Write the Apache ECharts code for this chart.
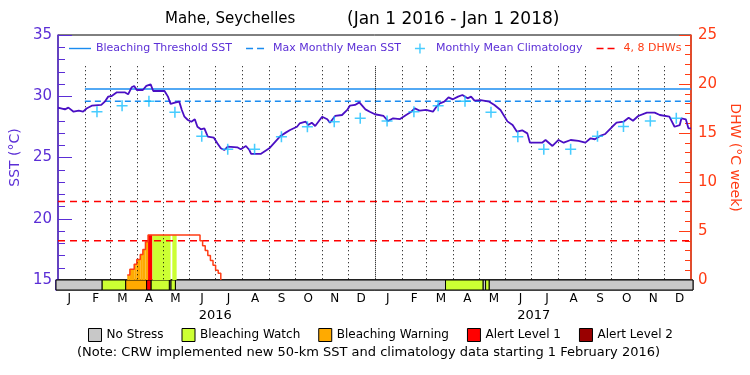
<!DOCTYPE html>
<html>
<head>
<meta charset="utf-8">
<title>Mahe, Seychelles</title>
<script src="https://cdn.jsdelivr.net/npm/echarts@6/dist/echarts.min.js"></script>
<style>
  html, body { margin: 0; padding: 0; background: #fff; }
  #chart { width: 750px; height: 375px; }
</style>
</head>
<body>
<div id="chart"></div>
<script>
// SST 日序列
const sstDates = ['2016-01-01','2016-01-09','2016-01-13','2016-01-19','2016-01-25','2016-01-30','2016-02-03','2016-02-09','2016-02-20','2016-02-24',
  '2016-02-28','2016-03-03','2016-03-09','2016-03-18','2016-03-22','2016-03-26','2016-03-29','2016-04-01','2016-04-08','2016-04-12',
  '2016-04-17','2016-04-20','2016-05-03','2016-05-07','2016-05-10','2016-05-15','2016-05-20','2016-05-23','2016-05-26','2016-05-30',
  '2016-06-03','2016-06-07','2016-06-10','2016-06-14','2016-06-18','2016-06-22','2016-06-29','2016-07-03','2016-07-07','2016-07-11',
  '2016-07-15','2016-07-26','2016-07-30','2016-08-05','2016-08-09','2016-08-11','2016-08-22','2016-09-01','2016-09-14','2016-09-20',
  '2016-09-25','2016-10-03','2016-10-06','2016-10-13','2016-10-16','2016-10-20','2016-10-24','2016-11-01','2016-11-07','2016-11-10',
  '2016-11-16','2016-11-24','2016-11-30','2016-12-03','2016-12-09','2016-12-14','2016-12-21','2016-12-26','2017-01-01','2017-01-11',
  '2017-01-16','2017-01-22','2017-01-30','2017-02-06','2017-02-12','2017-02-16','2017-02-22','2017-03-01','2017-03-09','2017-03-13',
  '2017-03-17','2017-03-22','2017-03-27','2017-04-01','2017-04-07','2017-04-12','2017-04-18','2017-04-22','2017-04-26','2017-05-03',
  '2017-05-13','2017-05-19','2017-05-26','2017-06-03','2017-06-09','2017-06-14','2017-06-20','2017-06-26','2017-06-29','2017-07-13',
  '2017-07-17','2017-07-25','2017-08-01','2017-08-07','2017-08-15','2017-08-24','2017-09-01','2017-09-07','2017-09-12','2017-09-18',
  '2017-09-24','2017-10-02','2017-10-07','2017-10-15','2017-10-21','2017-10-26','2017-11-01','2017-11-11','2017-11-20','2017-11-26',
  '2017-12-07','2017-12-13','2017-12-19','2017-12-21','2017-12-26','2017-12-29','2018-01-01']
const sstValues = [29.07,28.93,29.07,28.74,28.82,28.74,29.0,29.23,29.29,29.56,
  29.97,30.02,30.32,30.32,30.16,30.73,30.84,30.51,30.51,30.84,
  30.97,30.43,30.43,29.97,29.37,29.48,29.56,28.88,28.33,28.06,
  27.92,28.12,27.51,27.30,27.38,26.70,26.62,26.16,25.75,25.61,
  25.88,25.83,25.67,25.94,25.61,25.29,25.29,25.75,26.76,27.03,
  27.24,27.51,27.78,27.92,27.65,27.84,27.57,28.33,28.12,27.84,
  28.39,28.47,28.88,29.23,29.29,29.5,28.93,28.74,28.53,28.39,
  27.98,28.2,28.14,28.47,28.74,29.01,28.82,28.88,28.74,29.15,
  29.42,29.56,29.91,29.75,29.97,30.1,29.83,29.97,29.64,29.69,
  29.56,29.29,28.88,27.95,27.65,27.11,27.22,26.97,26.21,26.21,
  26.43,25.94,26.43,26.21,26.43,26.35,26.21,26.57,26.49,26.76,
  26.92,27.51,27.84,27.92,28.25,28.0,28.39,28.66,28.66,28.47,
  28.33,27.51,27.65,28.2,28.12,27.38,27.38]

// 月平均气候态
const climDates = ['2016-02-15','2016-03-15','2016-04-15','2016-05-15','2016-06-15','2016-07-15','2016-08-15','2016-09-15','2016-10-15','2016-11-15','2016-12-15',
  '2017-01-15','2017-02-15','2017-03-15','2017-04-15','2017-05-15','2017-06-15','2017-07-15','2017-08-15','2017-09-15','2017-10-15','2017-11-15','2017-12-15']
const climValues = [28.74,29.23,29.59,28.69,26.73,25.67,25.67,26.70,27.51,27.92,28.2,
  27.98,28.74,29.23,29.59,28.69,26.70,25.67,25.67,26.73,27.53,27.98,28.2]

const mmmSst = 29.6
const thresholdSst = 30.6
const climStart = '2016-02-01'
const dhwRefs = [4, 8]

// DHW 阶梯
const dhwDates = ['2016-03-21','2016-03-24','2016-03-29','2016-04-01','2016-04-05','2016-04-08','2016-04-11','2016-04-14',
  '2016-06-13','2016-06-16','2016-06-19','2016-06-22','2016-06-25','2016-06-28','2016-07-01','2016-07-04','2016-07-07']
const dhwValues = [0.5,1.1,1.6,2.1,2.6,3.1,3.9,4.6,4.0,3.5,3.0,2.5,2.0,1.5,1.0,0.7,0]

// 热应力等级
const stressNames = ['No Stress', 'Bleaching Watch', 'Bleaching Warning', 'Alert Level 1', 'Alert Level 2']
const stressColors = ['#c8c8c8', '#ccff33', '#ffaa00', '#ff0000', '#990000']
const stressStarts = ['2016-01-01','2016-02-23','2016-03-21','2016-04-14','2016-04-19','2016-05-10','2016-05-12','2016-05-17',
  '2017-03-23','2017-05-05','2017-05-08','2017-05-12']
const stressLevels = [0,1,2,3,1,0,1,0,1,0,1,0]

const monthLabels = ['J','F','M','A','M','J','J','A','S','O','N','D','J','F','M','A','M','J','J','A','S','O','N','D']
const yearLabels = ['2016', '2017']
const startDate = '2016-01-01'
const endDate = '2018-01-01'

const FONT = 'DejaVu Sans'
const PURPLE = '#5b2ed6'
const ORANGE = '#ff3c14'
const BLUE = '#1a8cf0'

// 图例图标（前两个 M 只用来撑开外框）
const ICON_SOLID = 'path://M0,0M22,10M0,4.3H22V5.7H0Z'
const ICON_DASH = 'path://M0,0M22,10M0,4.3H7V5.7H0ZM11,4.3H18V5.7H11Z'
const ICON_PLUS = 'path://M4.3,0H5.7V4.3H10V5.7H5.7V10H4.3V5.7H0V4.3H4.3Z'

const ts = s => new Date(s + 'T00:00:00').getTime()
const t0 = ts(startDate)
const t1 = ts(endDate)

const stressEnds = stressStarts.slice(1).concat(endDate)

// 月分隔线
const monthLines = []
for (let y = 2016; y <= 2017; y++) {
  for (let m = 1; m <= 12; m++) {
    if (y === 2016 && m === 1) continue
    monthLines.push(y + '-' + String(m).padStart(2, '0') + '-01')
  }
}

// DHW 下方按等级着色的填充
const fills = []
stressStarts.forEach((s, i) => {
  const lvl = stressLevels[i]
  if (!lvl) return
  const a = ts(s), b = ts(stressEnds[i])
  for (let k = 0; k < dhwDates.length - 1; k++) {
    const lo = Math.max(a, ts(dhwDates[k]))
    const hi = Math.min(b, ts(dhwDates[k + 1]))
    if (hi > lo && dhwValues[k] > 0) fills.push([lo, hi, dhwValues[k], lvl])
  }
})

function renderFill(params, api) {
  const p0 = api.coord([api.value(0), api.value(2)])
  const p1 = api.coord([api.value(1), 0])
  return {
    type: 'rect',
    shape: { x: p0[0], y: p0[1], width: p1[0] - p0[0], height: p1[1] - p0[1] },
    style: { fill: stressColors[api.value(3)] }
  }
}

function renderStress(params, api) {
  const p0 = api.coord([api.value(0), 1])
  const p1 = api.coord([api.value(1), 0])
  return {
    type: 'rect',
    shape: { x: p0[0], y: p0[1], width: p1[0] - p0[0], height: p1[1] - p0[1] },
    style: { fill: api.visual('color'), stroke: '#000', lineWidth: 1 }
  }
}

const stressSeries = stressNames.map((name, lvl) => ({
  name,
  type: 'custom',
  xAxisIndex: 1,
  yAxisIndex: 2,
  renderItem: renderStress,
  itemStyle: { color: stressColors[lvl] },
  encode: { x: [0, 1], y: 2 },
  data: stressStarts.map((s, i) => [ts(s), ts(stressEnds[i]), 1, stressLevels[i]])
    .filter(d => d[3] === lvl)
}))

const textBase = { fontFamily: FONT, fontWeight: 'normal', color: '#000' }

const chart = echarts.init(document.getElementById('chart'))

chart.setOption({
  animation: false,
  backgroundColor: '#fff',
  title: [
    { text: 'Mahe, Seychelles', left: 165, top: 12, padding: 0, textStyle: { ...textBase, fontSize: 15 } },
    { text: '(Jan 1 2016 - Jan 1 2018)', left: 347, top: 11, padding: 0, textStyle: { ...textBase, fontSize: 17 } },
    { text: '(Note: CRW implemented new 50-km SST and climatology data starting 1 February 2016)', left: 77, top: 346, padding: 0,
      textStyle: { ...textBase, fontSize: 13 } }
  ],
  legend: [
    {
      left: 69, top: 43, padding: 0, itemWidth: 22, itemHeight: 10, itemGap: 14,
      textStyle: { fontFamily: FONT, fontSize: 11, color: PURPLE },
      data: [
        { name: 'Bleaching Threshold SST', icon: ICON_SOLID },
        { name: 'Max Monthly Mean SST', icon: ICON_DASH },
        { name: 'Monthly Mean Climatology', icon: ICON_PLUS },
        { name: '4, 8 DHWs', icon: ICON_DASH, textStyle: { color: ORANGE } }
      ]
    },
    {
      left: 88, top: 328, padding: 0, itemWidth: 13, itemHeight: 13, itemGap: 18, icon: 'rect',
      itemStyle: { borderColor: '#000', borderWidth: 1 },
      textStyle: { fontFamily: FONT, fontSize: 12, color: '#000' },
      data: stressNames
    }
  ],
  grid: [
    { left: 56, top: 35, width: 637, height: 245, show: true, borderColor: '#000', borderWidth: 1 },
    { left: 56, top: 280, width: 637, height: 10, show: true, borderColor: '#000', borderWidth: 1 }
  ],
  xAxis: [
    { type: 'time', gridIndex: 0, min: t0, max: t1, show: false },
    { type: 'time', gridIndex: 1, min: t0, max: t1, show: false },
    {
      type: 'category', gridIndex: 1, position: 'bottom', data: monthLabels, boundaryGap: true,
      axisLine: { show: false }, axisTick: { show: false },
      axisLabel: { interval: 0, margin: 3, fontFamily: FONT, fontSize: 12, color: '#000' }
    },
    {
      type: 'category', gridIndex: 1, position: 'bottom', offset: 17, data: yearLabels, boundaryGap: true,
      axisLine: { show: false }, axisTick: { show: false },
      axisLabel: { interval: 0, margin: 2, fontFamily: FONT, fontSize: 13, color: '#000' }
    }
  ],
  yAxis: [
    {
      type: 'value', gridIndex: 0, min: 15, max: 35, interval: 5, position: 'left',
      name: 'SST (°C)', nameLocation: 'middle', nameGap: 36, nameRotate: 90,
      nameTextStyle: { fontFamily: FONT, fontSize: 14, color: PURPLE },
      axisLine: { show: true, lineStyle: { color: PURPLE, width: 1.5 } },
      axisTick: { show: true, inside: true, length: 14, lineStyle: { color: PURPLE } },
      minorTick: { show: true, splitNumber: 5, length: 7, lineStyle: { color: PURPLE } },
      axisLabel: { fontFamily: FONT, fontSize: 15, color: PURPLE, margin: 6 },
      splitLine: { show: false }
    },
    {
      type: 'value', gridIndex: 0, min: 0, max: 25, interval: 5, position: 'right',
      name: 'DHW (°C week)', nameLocation: 'middle', nameGap: 34, nameRotate: -90,
      nameTextStyle: { fontFamily: FONT, fontSize: 14, color: ORANGE },
      axisLine: { show: true, lineStyle: { color: ORANGE, width: 1.5 } },
      axisTick: { show: true, inside: true, length: 12, lineStyle: { color: ORANGE } },
      minorTick: { show: true, splitNumber: 5, length: 6, lineStyle: { color: ORANGE } },
      axisLabel: { fontFamily: FONT, fontSize: 15, color: ORANGE, margin: 7 },
      splitLine: { show: false }
    },
    {
      type: 'value', gridIndex: 1, min: 0, max: 1, position: 'left',
      axisLine: { show: true, lineStyle: { color: PURPLE, width: 1.5 } },
      axisTick: { show: false }, axisLabel: { show: false }, splitLine: { show: false }
    }
  ],
  series: [
    {
      name: 'Bleaching Threshold SST', type: 'line', xAxisIndex: 0, yAxisIndex: 0, z: 2,
      symbol: 'none', lineStyle: { color: BLUE, width: 1.5 }, itemStyle: { color: BLUE },
      data: [[ts(climStart), thresholdSst], [t1, thresholdSst]],
      markLine: {
        silent: true, symbol: ['none', 'none'], label: { show: false },
        lineStyle: { color: '#000', width: 1, type: [1, 3] },
        data: monthLines.map(d => [
          { coord: [ts(d), 32.45], lineStyle: { type: d === '2017-01-01' ? [1, 1] : [1, 3] } },
          { coord: [ts(d), 15] }
        ])
      }
    },
    {
      name: 'Max Monthly Mean SST', type: 'line', xAxisIndex: 0, yAxisIndex: 0, z: 2,
      symbol: 'none', lineStyle: { color: BLUE, width: 1.5, type: [6, 4] }, itemStyle: { color: BLUE },
      data: [[ts(climStart), mmmSst], [t1, mmmSst]]
    },
    {
      name: 'DHW fill', type: 'custom', xAxisIndex: 0, yAxisIndex: 1, z: 3,
      renderItem: renderFill, encode: { x: [0, 1], y: 2 }, data: fills
    },
    ...dhwRefs.map(v => ({
      name: '4, 8 DHWs', type: 'line', xAxisIndex: 0, yAxisIndex: 1, z: 4,
      symbol: 'none', lineStyle: { color: '#ff0000', width: 1.5, type: [7, 5] }, itemStyle: { color: '#ff0000' },
      data: [[t0, v], [t1, v]]
    })),
    {
      name: 'DHW', type: 'line', xAxisIndex: 0, yAxisIndex: 1, z: 5, step: 'end',
      symbol: 'none', lineStyle: { color: ORANGE, width: 1.5 },
      data: dhwDates.map((d, i) => [ts(d), dhwValues[i]])
    },
    {
      name: 'SST', type: 'line', xAxisIndex: 0, yAxisIndex: 0, z: 6,
      symbol: 'none', lineStyle: { color: '#4a0fc4', width: 1.8 },
      data: sstDates.map((d, i) => [ts(d), sstValues[i]])
    },
    {
      name: 'Monthly Mean Climatology', type: 'scatter', xAxisIndex: 0, yAxisIndex: 0, z: 7,
      symbol: ICON_PLUS, symbolSize: 11,
      itemStyle: { color: '#19bfff' },
      data: climDates.map((d, i) => [ts(d), climValues[i]])
    },
    ...stressSeries
  ]
})
</script>
</body>
</html>
